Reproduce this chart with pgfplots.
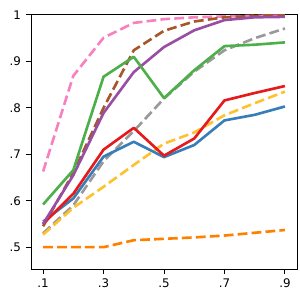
\documentclass[border=0pt]{standalone}
\usepackage{fontspec}
\setmainfont{DejaVu Sans}
\usepackage{pgfplots}
\pgfplotsset{compat=1.18}
\definecolor{cred}{HTML}{E41A1C}
\definecolor{cblue}{HTML}{377EB8}
\definecolor{cgreen}{HTML}{4DAF4A}
\definecolor{cpurple}{HTML}{984EA3}
\definecolor{corange}{HTML}{FF7F00}
\definecolor{cyellow}{HTML}{FEC230}
\definecolor{cbrown}{HTML}{A65628}
\definecolor{cpink}{HTML}{F781BF}
\definecolor{cgray}{HTML}{999999}
\newlength{\px}\setlength{\px}{0.02667cm}
\begin{document}
\fontsize{9}{10}\selectfont
\begin{tikzpicture}
\begin{axis}[name=ax,
  scale only axis, width=266\px, height=254\px,
  xmin=0.06, xmax=0.94, ymin=0.453, ymax=1.0,
  xtick={0.1,0.3,0.5,0.7,0.9}, xticklabels={.1,.3,.5,.7,.9},
  ytick={0.5,0.6,0.7,0.8,0.9,1.0}, yticklabels={.5,.6,.7,.8,.9,1},
  tick align=outside, tick pos=left,
  major tick length=4.5\px,
  tick style={black, line width=0.75pt},
  axis line style={line width=0.75pt},
  xticklabel style={yshift=-1pt},
  yticklabel style={xshift=-1pt},
  /pgf/number format/assume math mode=true,
  every axis plot/.append style={line width=2pt, line join=round},
]
\addplot[cgray, dash pattern=on 7.4pt off 3.2pt] coordinates {(0.1,0.530)(0.2,0.590)(0.3,0.685)(0.4,0.750)(0.5,0.820)(0.6,0.878)(0.7,0.924)(0.8,0.950)(0.9,0.971)};
\addplot[corange, dash pattern=on 7.4pt off 3.2pt] coordinates {(0.1,0.500)(0.2,0.500)(0.3,0.500)(0.4,0.515)(0.5,0.518)(0.6,0.521)(0.7,0.525)(0.8,0.531)(0.9,0.537)};
\addplot[cyellow, dash pattern=on 7.4pt off 3.2pt] coordinates {(0.1,0.527)(0.2,0.585)(0.3,0.630)(0.4,0.677)(0.5,0.723)(0.6,0.747)(0.7,0.784)(0.8,0.810)(0.9,0.835)};
\addplot[cpink, dash pattern=on 7.4pt off 3.2pt] coordinates {(0.1,0.663)(0.2,0.869)(0.3,0.951)(0.4,0.983)(0.5,0.991)(0.6,0.995)(0.7,0.997)(0.8,0.998)(0.9,0.999)};
\addplot[cbrown, dash pattern=on 7.4pt off 3.2pt] coordinates {(0.1,0.545)(0.2,0.660)(0.3,0.800)(0.4,0.924)(0.5,0.966)(0.6,0.986)(0.7,0.995)(0.8,0.998)(0.9,1.000)};
\addplot[cblue] coordinates {(0.1,0.555)(0.2,0.605)(0.3,0.695)(0.4,0.727)(0.5,0.694)(0.6,0.720)(0.7,0.773)(0.8,0.785)(0.9,0.803)};
\addplot[cred] coordinates {(0.1,0.550)(0.2,0.615)(0.3,0.710)(0.4,0.757)(0.5,0.697)(0.6,0.734)(0.7,0.816)(0.8,0.832)(0.9,0.847)};
\addplot[cpurple] coordinates {(0.1,0.550)(0.2,0.655)(0.3,0.789)(0.4,0.877)(0.5,0.931)(0.6,0.967)(0.7,0.989)(0.8,0.995)(0.9,0.996)};
\addplot[cgreen] coordinates {(0.1,0.592)(0.2,0.666)(0.3,0.867)(0.4,0.910)(0.5,0.821)(0.6,0.881)(0.7,0.933)(0.8,0.936)(0.9,0.941)};
\end{axis}
\pgfresetboundingbox
\path (ax.south west) ++(-31\px,-31\px) coordinate (bl);
\path (ax.north east) ++(3\px,15\px) coordinate (tr);
\path (bl) rectangle (tr);
\end{tikzpicture}
\end{document}
